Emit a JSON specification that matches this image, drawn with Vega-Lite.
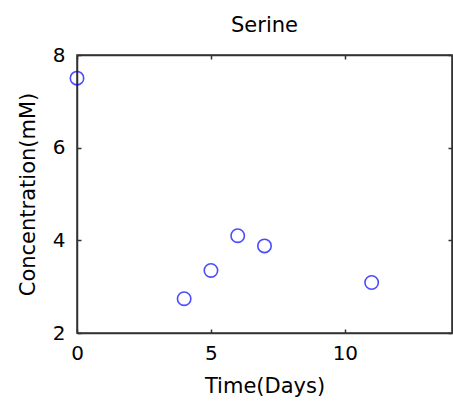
{
  "$schema": "https://vega.github.io/schema/vega-lite/v6.json",
  "width": 375,
  "height": 278,
  "autosize": "none",
  "padding": {"left": 77, "top": 55, "right": 1, "bottom": 78},
  "background": "#ffffff",
  "title": {
    "text": "Serine",
    "font": "DejaVu Sans",
    "fontSize": 21,
    "fontWeight": "normal",
    "color": "#000000",
    "anchor": "middle",
    "baseline": "alphabetic",
    "frame": "group",
    "offset": -8
  },
  "config": {
    "view": {"stroke": "#333333", "strokeWidth": 1.5},
    "axis": {
      "grid": false,
      "labelFlush": false,
      "labelOverlap": false,
      "domainColor": "#333333",
      "domainWidth": 1.5,
      "tickColor": "#333333",
      "tickWidth": 1.5,
      "tickSize": -4,
      "labelFont": "DejaVu Sans",
      "labelFontSize": 20,
      "labelColor": "#000000",
      "titleFont": "DejaVu Sans",
      "titleFontSize": 21,
      "titleFontWeight": "normal",
      "titleColor": "#000000"
    }
  },
  "data": {
    "values": [
      {"day": 0, "conc": 7.5},
      {"day": 4, "conc": 2.74},
      {"day": 5, "conc": 3.35},
      {"day": 6, "conc": 4.1},
      {"day": 7, "conc": 3.88},
      {"day": 11, "conc": 3.09}
    ]
  },
  "layer": [
    {
      "mark": {"type": "point", "shape": "circle", "filled": false, "color": "#0000ff", "size": 180, "strokeWidth": 1.6},
      "encoding": {
        "x": {
          "field": "day", "type": "quantitative",
          "scale": {"domain": [0, 14], "nice": false, "zero": false},
          "axis": {"orient": "bottom", "values": [0, 5, 10], "title": "Time(Days)", "labelPadding": 14, "titlePadding": 12}
        },
        "y": {
          "field": "conc", "type": "quantitative",
          "scale": {"domain": [2, 8], "nice": false, "zero": false},
          "axis": {"orient": "left", "values": [2, 4, 6, 8], "title": "Concentration(mM)", "labelPadding": 16, "titlePadding": 14}
        }
      }
    },
    {
      "mark": {"type": "point", "opacity": 0},
      "encoding": {
        "x": {
          "field": "day", "type": "quantitative",
          "scale": {"domain": [0, 14], "nice": false, "zero": false},
          "axis": {"orient": "top", "values": [0, 5, 10], "labels": false, "title": null}
        },
        "y": {
          "field": "conc", "type": "quantitative",
          "scale": {"domain": [2, 8], "nice": false, "zero": false},
          "axis": {"orient": "right", "values": [2, 4, 6, 8], "labels": false, "title": null}
        }
      }
    }
  ],
  "resolve": {"axis": {"x": "independent", "y": "independent"}}
}
